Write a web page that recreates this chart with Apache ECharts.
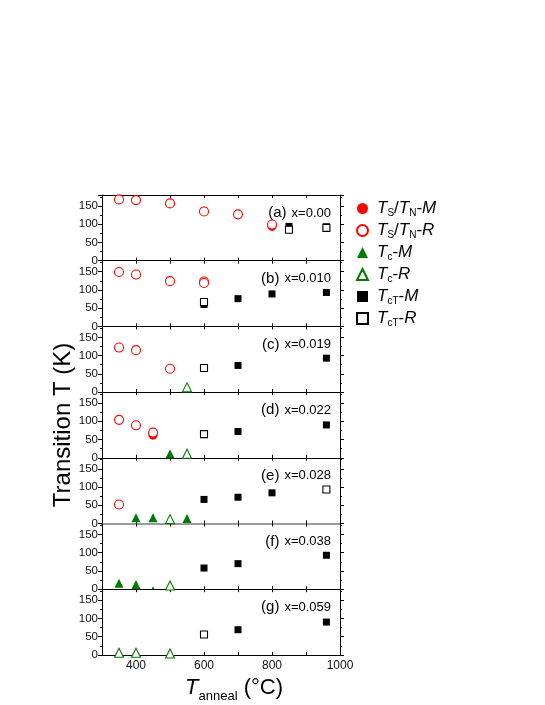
<!DOCTYPE html>
<html>
<head>
<meta charset="utf-8">
<script src="https://cdn.jsdelivr.net/npm/echarts@6/dist/echarts.min.js"></script>
<style>
  html, body { margin: 0; background: #fff; }
  #chart { width: 545px; height: 705px; }
</style>
</head>
<body>
<div id="chart"></div>
<script>
// one entry per panel, (a) .. (g)
const panelLabels = ['(a)', '(b)', '(c)', '(d)', '(e)', '(f)', '(g)'];
const dopings = ['x=0.00', 'x=0.010', 'x=0.019', 'x=0.022', 'x=0.028', 'x=0.038', 'x=0.059'];

// [T_anneal (°C), transition T (K)]
const tsM = [[[800, 94]], [], [], [[450, 62]], [], [], []];
const tsR = [
    [[350, 168], [400, 166], [500, 157], [600, 135], [700, 127], [800, 99]],
    [[350, 149], [400, 142], [500, 124], [600, 123], [600, 119]],
    [[350, 122], [400, 115], [500, 64]],
    [[350, 104], [400, 89], [450, 69]],
    [[350, 52]],
    [],
    []
];
const tcM = [[], [], [], [[500, 11]], [[400, 16], [450, 16], [550, 14]], [[350, 16], [400, 13]], []];
const tcMTiny = [[], [], [], [], [], [[450, 4]], []];
const tcR = [[], [], [[550, 13]], [[550, 11]], [[500, 12]], [[500, 10]], [[350, 6], [400, 6], [500, 4]]];
const tctM = [
    [[850, 94], [960, 93]],
    [[600, 60], [700, 76], [800, 89], [960, 93]],
    [[700, 73], [960, 93]],
    [[700, 72], [960, 90]],
    [[600, 66], [700, 72], [800, 84]],
    [[600, 58], [700, 70], [960, 93]],
    [[700, 69], [960, 90]]
];
const tctR = [[[850, 85], [960, 90]], [[600, 67]], [[600, 66]], [[600, 65]], [[960, 93]], [], [[600, 56]]];

const RED = '#ff0000', GREEN = '#007a00', BLACK = '#000';
const FONT = 'Liberation Sans, Arial, sans-serif';
const panelTop = 195, panelH = 65.7, left = 102, right = 205;

const legendText = {
    tsM: '{g|}{i|T}{s|S}{n|/}{i|T}{s|N}{n|-}{i|M}',
    tsR: '{g|}{i|T}{s|S}{n|/}{i|T}{s|N}{n|-}{i|R}',
    tcM: '{g|}{i|T}{s|c}{n|-}{i|M}',
    tcR: '{g|}{i|T}{s|c}{n|-}{i|R}',
    tctM: '{g|}{i|T}{s|cT}{n|-}{i|M}',
    tctR: '{g|}{i|T}{s|cT}{n|-}{i|R}'
};

let grid = [], xAxis = [], yAxis = [], series = [], title = [];

panelLabels.forEach((lab, i) => {
    const top = panelTop + i * panelH;
    grid.push({ left: left, right: right, top: top, height: panelH });
    const xBase = {
        type: 'value', gridIndex: i, min: 300, max: 1000, interval: 100,
        splitLine: { show: false },
        axisTick: { inside: true, length: 3, lineStyle: { color: BLACK } }
    };
    // the line between (e) and (f) is grey in the original
    xAxis.push(Object.assign({}, xBase, {
        position: 'bottom',
        axisLine: { onZero: false, lineStyle: { color: i === 4 ? '#9a9a9a' : BLACK, width: i === 4 ? 2 : 1 } },
        axisLabel: {
            show: i === 6, color: '#111', fontSize: 12, fontFamily: FONT, margin: 5,
            formatter: v => (v % 200 === 0 && v > 300) ? v : ''
        },
        name: i === 6 ? '{t|T}{s|anneal}{n| (°C)}' : '',
        nameLocation: 'middle', nameGap: 18,
        nameTextStyle: {
            fontFamily: FONT, color: BLACK, padding: [0, 0, 0, 26],
            rich: {
                t: { fontSize: 22, fontStyle: 'italic', lineHeight: 30, fontFamily: FONT },
                s: { fontSize: 13, lineHeight: 8, verticalAlign: 'bottom', fontFamily: FONT },
                n: { fontSize: 22, lineHeight: 30, fontFamily: FONT }
            }
        }
    }));
    xAxis.push(Object.assign({}, xBase, {
        position: 'top',
        axisLine: { onZero: false, lineStyle: { color: i === 5 ? '#9a9a9a' : BLACK, width: i === 5 ? 2 : 1 } },
        axisLabel: { show: false }
    }));
    yAxis.push({
        type: 'value', gridIndex: i, min: 0, max: 180, interval: 50,
        position: 'left',
        splitLine: { show: false },
        axisLine: { show: true, onZero: false, lineStyle: { color: BLACK } },
        axisTick: { inside: false, length: 4, lineStyle: { color: BLACK } },
        minorTick: { show: true, splitNumber: 2, length: 2, lineStyle: { color: BLACK } },
        axisLabel: {
            color: '#111', fontSize: 11.5, fontFamily: FONT, margin: 4,
            formatter: v => v % 50 === 0 ? v : ''
        },
        name: i === 3 ? 'Transition T (K)' : '',
        nameLocation: 'middle', nameGap: 24, nameRotate: 90,
        nameTextStyle: { fontSize: 24, fontFamily: FONT, color: BLACK }
    });
    yAxis.push({
        type: 'value', gridIndex: i, min: 0, max: 180, interval: 50,
        position: 'right',
        splitLine: { show: false },
        axisLine: { show: true, onZero: false, lineStyle: { color: BLACK } },
        axisTick: { inside: false, length: 4, lineStyle: { color: BLACK } },
        minorTick: { show: true, splitNumber: 2, length: 2, lineStyle: { color: BLACK } },
        axisLabel: { show: false }
    });
    title.push({
        text: '{p|' + lab + '} {x|' + dopings[i] + '}',
        right: 545 - 336, top: top + 4,
        textStyle: {
            fontWeight: 'normal',
            rich: {
                p: { fontSize: 15, fontWeight: 'normal', fontFamily: FONT, color: BLACK },
                x: { fontSize: 13, fontWeight: 'normal', fontFamily: FONT, color: BLACK }
            }
        }
    });

    const add = (name, data, symbol, size, color, open, z) => {
        series.push({
            name: name, type: 'scatter', xAxisIndex: 2 * i, yAxisIndex: 2 * i,
            data: data[i], symbol: symbol, symbolSize: size, z: z,
            itemStyle: open
                ? { color: '#fff', borderColor: color, borderWidth: 1.1, opacity: 1 }
                : { color: color, opacity: 1 },
            emphasis: { disabled: true }
        });
    };
    add('tsM', tsM, 'circle', 9, RED, false, 2);
    add('tcM', tcM, 'triangle', 9, GREEN, false, 2);
    add('tcM', tcMTiny, 'triangle', 3, GREEN, false, 2);
    add('tctM', tctM, 'rect', 7, BLACK, false, 2);
    add('tsR', tsR, 'circle', 9, RED, true, 3);
    add('tcR', tcR, 'triangle', 9, GREEN, true, 3);
    add('tctR', tctR, 'rect', 7, BLACK, true, 3);
});

const option = {
    backgroundColor: '#fff',
    animation: false,
    textStyle: { fontFamily: FONT },
    grid: grid,
    xAxis: xAxis,
    yAxis: yAxis,
    title: title,
    legend: {
        orient: 'vertical', left: 351, top: 195,
        itemWidth: 11, itemHeight: 11, itemGap: 3.5,
        data: ['tsM', 'tsR', 'tcM', 'tcR', 'tctM', 'tctR'],
        formatter: name => legendText[name],
        textStyle: {
            rich: {
                g: { width: 4, lineHeight: 20 },
                i: { fontSize: 17, fontStyle: 'italic', lineHeight: 20, fontFamily: FONT, color: BLACK },
                n: { fontSize: 17, lineHeight: 20, fontFamily: FONT, color: BLACK },
                s: { fontSize: 10, lineHeight: 6, verticalAlign: 'bottom', fontFamily: FONT, color: BLACK }
            }
        }
    },
    series: series
};

const myChart = echarts.init(document.getElementById('chart'));
myChart.setOption(option);
</script>
</body>
</html>
